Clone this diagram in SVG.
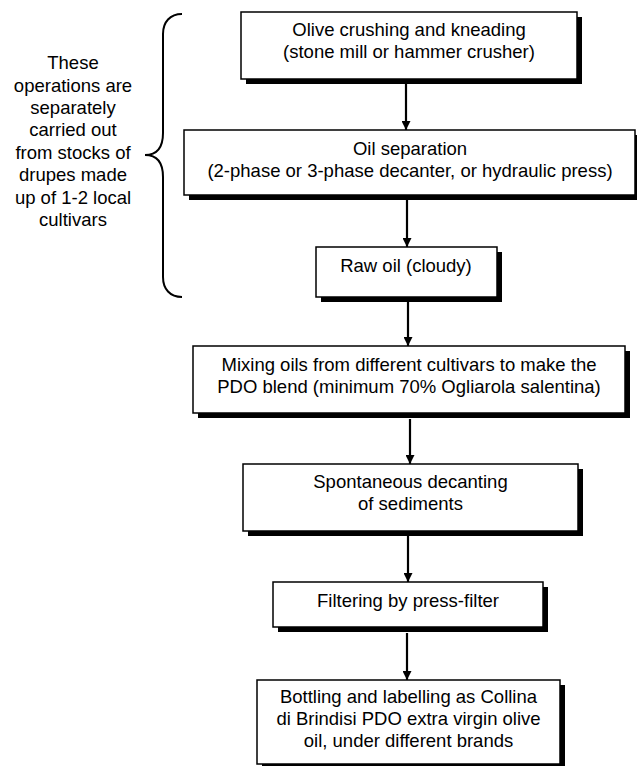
<svg xmlns="http://www.w3.org/2000/svg" width="637" height="766" viewBox="0 0 637 766">
<style>
.box{fill:#fff;stroke:#000;stroke-width:1.5}
.sh{fill:#000}
text{font-family:"Liberation Sans",Arial,sans-serif;font-size:18.5px;fill:#000;text-anchor:middle}
.conn{stroke:#000;stroke-width:2.2;fill:none;marker-end:url(#ah)}
</style>
<defs>
<marker id="ah" markerWidth="10" markerHeight="9" refX="10" refY="5" orient="auto" markerUnits="userSpaceOnUse" viewBox="0 0 10 10">
<path d="M0,0 L10,5 L0,10 Z" fill="#000"/>
</marker>
</defs>
<rect width="637" height="766" fill="#fff"/>
<g id="note">
<path d="M182,14 C170,14 163,22 163,34 L163,133 C163,147 157,155 145,155 C157,155 163,163 163,177 L163,277 C163,289 170,297 182,297" fill="none" stroke="#000" stroke-width="2"/>
<text x="73" y="69.3">These</text>
<text x="73" y="91.7">operations are</text>
<text x="73" y="114">separately</text>
<text x="73" y="136.4">carried out</text>
<text x="73" y="158.8">from stocks of</text>
<text x="73" y="181.2">drupes made</text>
<text x="73" y="203.6">up of 1-2 local</text>
<text x="73" y="226">cultivars</text>
</g>
<g id="connectors">
<line class="conn" x1="406" y1="80" x2="406" y2="130"/>
<line class="conn" x1="407" y1="196" x2="407" y2="247"/>
<line class="conn" x1="408" y1="302" x2="408" y2="346"/>
<line class="conn" x1="410" y1="419" x2="410" y2="464"/>
<line class="conn" x1="408" y1="536" x2="408" y2="582"/>
<line class="conn" x1="407" y1="633" x2="407" y2="680"/>
</g>
<g id="n1">
<rect class="sh" x="246" y="17" width="336" height="67"/>
<rect class="box" x="241" y="12" width="336" height="67"/>
<text x="409" y="36">Olive crushing and kneading</text>
<text x="409" y="58.3">(stone mill or hammer crusher)</text>
</g>
<g id="n2">
<rect class="sh" x="189" y="135" width="452" height="65"/>
<rect class="box" x="184" y="130" width="451" height="65"/>
<text x="410" y="155">Oil separation</text>
<text x="410" y="176.7">(2-phase or 3-phase decanter, or hydraulic press)</text>
</g>
<g id="n3">
<rect class="sh" x="321" y="252" width="181" height="50"/>
<rect class="box" x="316" y="247" width="181" height="50"/>
<text x="406" y="271.7">Raw oil (cloudy)</text>
</g>
<g id="n4">
<rect class="sh" x="198" y="351" width="432" height="67"/>
<rect class="box" x="193" y="346" width="432" height="67"/>
<text x="409" y="371">Mixing oils from different cultivars to make the</text>
<text x="409" y="393">PDO blend (minimum 70% Ogliarola salentina)</text>
</g>
<g id="n5">
<rect class="sh" x="248" y="469" width="335" height="67"/>
<rect class="box" x="243" y="464" width="335" height="67"/>
<text x="410.5" y="488">Spontaneous decanting</text>
<text x="410.5" y="510">of sediments</text>
</g>
<g id="n6">
<rect class="sh" x="278" y="587" width="270" height="45"/>
<rect class="box" x="273" y="582" width="270" height="45"/>
<text x="408" y="607">Filtering by press-filter</text>
</g>
<g id="n7">
<rect class="sh" x="262" y="685" width="303" height="90"/>
<rect class="box" x="257" y="680" width="303" height="84"/>
<text x="408.5" y="703">Bottling and labelling as Collina</text>
<text x="408.5" y="725">di Brindisi PDO extra virgin olive</text>
<text x="408.5" y="747">oil, under different brands</text>
</g>
</svg>
